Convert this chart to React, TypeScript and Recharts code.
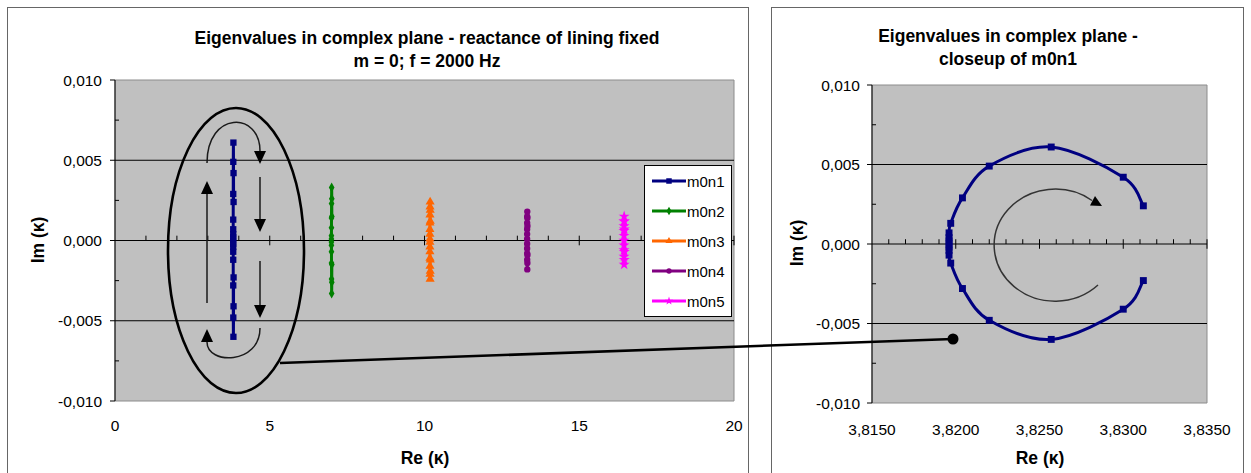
import React from "react";
import {
  ScatterChart,
  Scatter,
  XAxis,
  YAxis,
  ReferenceArea,
  ReferenceLine,
  Legend,
  Symbols,
} from "recharts";

const FONT = '"Liberation Sans", Arial, sans-serif';

// eigenvalue paths (Re, Im)
const m0n1Re = [3.8312, 3.83, 3.8257, 3.822, 3.8204, 3.8197, 3.8196, 3.8196, 3.8196, 3.8196, 3.8196, 3.8196, 3.8196, 3.8197, 3.8204, 3.822, 3.8257, 3.83, 3.8312];
const m0n1Im = [0.0024, 0.0042, 0.0061, 0.0049, 0.0029, 0.0013, 0.0007, 0.0004, 0.0002, 0.0, -0.0002, -0.0004, -0.0007, -0.0012, -0.0028, -0.0048, -0.006, -0.0041, -0.0023];

const m0n2Re = [7.006, 7.004, 7.0, 6.997, 6.995, 6.994, 6.993, 6.993, 6.993, 6.993, 6.994, 6.995, 6.997, 7.0, 7.004, 7.006];
const m0n2Im = [0.0015, 0.0026, 0.0033, 0.0023, 0.0014, 0.0008, 0.0003, 0.0001, -0.0001, -0.0003, -0.0007, -0.0014, -0.0024, -0.0033, -0.0026, -0.0015];

const m0n3Re = [10.187, 10.185, 10.182, 10.179, 10.177, 10.176, 10.175, 10.175, 10.175, 10.175, 10.175, 10.175, 10.176, 10.177, 10.179, 10.182, 10.185, 10.187];
const m0n3Im = [0.0012, 0.0019, 0.0024, 0.0021, 0.0016, 0.0011, 0.0007, 0.0004, 0.0001, -0.0001, -0.0004, -0.0007, -0.0011, -0.0016, -0.0021, -0.0024, -0.0019, -0.0012];

const m0n4Re = [13.326, 13.324, 13.321, 13.318, 13.317, 13.316, 13.316, 13.316, 13.316, 13.316, 13.317, 13.318, 13.321, 13.324, 13.326];
const m0n4Im = [0.0009, 0.0014, 0.0018, 0.0015, 0.0011, 0.0007, 0.0004, 0.0001, -0.0002, -0.0005, -0.0008, -0.0012, -0.0018, -0.0014, -0.0009];

const m0n5Re = [16.456, 16.454, 16.451, 16.448, 16.447, 16.446, 16.446, 16.446, 16.446, 16.447, 16.448, 16.451, 16.454, 16.456];
const m0n5Im = [0.0007, 0.0012, 0.0015, 0.0012, 0.0009, 0.0006, 0.0003, 0.0, -0.0003, -0.0006, -0.001, -0.0015, -0.0012, -0.0007];

const seriesNames = ["m0n1", "m0n2", "m0n3", "m0n4", "m0n5"];
const seriesColors = ["#000080", "#008000", "#FF6600", "#800080", "#FF00FF"];
const seriesShapes = ["square", "diamond", "triangle", "circle", "star"] as const;
const markerSizes = [40, 28, 36, 32, 38];

const imTicks = [-0.01, -0.005, 0, 0.005, 0.01];
const imGrid = [-0.005, 0.005];
const imMinor = [-0.0075, -0.0025, 0.0025, 0.0075];
const reTicks = [0, 5, 10, 15, 20];
const reMinor = [1, 2, 3, 4, 6, 7, 8, 9, 11, 12, 13, 14, 16, 17, 18, 19];
const closeTicks = [3.815, 3.82, 3.825, 3.83, 3.835];
const closeMinor = [3.816, 3.817, 3.818, 3.819, 3.821, 3.822, 3.823, 3.824, 3.826, 3.827, 3.828, 3.829, 3.831, 3.832, 3.833, 3.834];

const toPts = (re: number[], im: number[]) => re.map((x, i) => ({ x, y: im[i] }));
const allSeries = [
  toPts(m0n1Re, m0n1Im),
  toPts(m0n2Re, m0n2Im),
  toPts(m0n3Re, m0n3Im),
  toPts(m0n4Re, m0n4Im),
  toPts(m0n5Re, m0n5Im),
];

const comma = (d: number) => (v: number) => v.toFixed(d).replace(".", ",");
const tickStyle = { fontSize: 15.5, fill: "#000", fontFamily: FONT };

// excel style smoothed line through the points (catmull-rom)
function catmull(pts: { x: number; y: number }[]) {
  if (!pts || !pts.length) return "";
  let d = `M${pts[0].x},${pts[0].y}`;
  for (let i = 0; i < pts.length - 1; i++) {
    const p0 = pts[i - 1] || pts[i];
    const p1 = pts[i];
    const p2 = pts[i + 1];
    const p3 = pts[i + 2] || p2;
    const c1x = p1.x + (p2.x - p0.x) / 6;
    const c1y = p1.y + (p2.y - p0.y) / 6;
    const c2x = p2.x - (p3.x - p1.x) / 6;
    const c2y = p2.y - (p3.y - p1.y) / 6;
    d += ` C${c1x},${c1y} ${c2x},${c2y} ${p2.x},${p2.y}`;
  }
  return d;
}
const smooth = (w: number) => (p: any) => (
  <path d={catmull(p.points)} stroke={p.stroke} strokeWidth={w} fill="none" />
);
const marker = (i: number, size: number) => (p: any) => (
  <Symbols cx={p.cx} cy={p.cy} type={seriesShapes[i]} size={size} fill={seriesColors[i]} />
);

const renderLegend = () => (
  <div
    style={{
      width: 88,
      height: 152,
      boxSizing: "border-box",
      background: "#fff",
      border: "1px solid #000",
      fontFamily: FONT,
      fontSize: 15,
    }}
  >
    {seriesNames.map((n, i) => (
      <div key={n} style={{ display: "flex", alignItems: "center", height: 30 }}>
        <svg width={42} height={12} style={{ marginLeft: 6 }}>
          <line x1={1} y1={6} x2={35} y2={6} stroke={seriesColors[i]} strokeWidth={3} />
          <Symbols cx={18} cy={6} type={seriesShapes[i]} size={i === 0 ? 30 : 22} fill={seriesColors[i]} />
        </svg>
        <span style={{ marginLeft: -6 }}>{n}</span>
      </div>
    ))}
  </div>
);

function MainChart() {
  return (
    <ScatterChart width={742} height={480} margin={{ top: 73, right: 15, bottom: 46, left: 0 }}>
      <XAxis type="number" dataKey="x" domain={[0, 20]} ticks={reTicks} interval={0}
        axisLine={false} tickLine={false} tickSize={0} tickMargin={19} height={40}
        tick={tickStyle} allowDataOverflow />
      <YAxis type="number" dataKey="y" domain={[-0.01, 0.01]} ticks={imTicks} interval={0}
        width={108} tickSize={5} tickMargin={8} axisLine={{ stroke: "#000" }}
        tickLine={{ stroke: "#000" }} tick={tickStyle} tickFormatter={comma(3)} allowDataOverflow />
      <ReferenceArea x1={0} x2={20} y1={-0.01} y2={0.01} fill="#C0C0C0" fillOpacity={1} stroke="#8c8c8c" ifOverflow="visible" />
      {imGrid.map((v) => (
        <ReferenceLine key={v} y={v} stroke="#000" strokeWidth={1} />
      ))}
      <ReferenceLine y={0} stroke="#000" strokeWidth={1} />
      {imMinor.map((v) => (
        <ReferenceLine key={"ym" + v} segment={[{ x: 0, y: v }, { x: 0.13, y: v }]} stroke="#000" ifOverflow="visible" />
      ))}
      {reMinor.map((v) => (
        <ReferenceLine key={"xm" + v} segment={[{ x: v, y: 0 }, { x: v, y: 0.0003 }]} stroke="#000" ifOverflow="visible" />
      ))}
      {reTicks.slice(1).map((v) => (
        <ReferenceLine key={"xM" + v} segment={[{ x: v, y: -0.0003 }, { x: v, y: 0.0003 }]} stroke="#000" ifOverflow="visible" />
      ))}
      {allSeries.map((pts, i) => (
        <Scatter key={seriesNames[i]} name={seriesNames[i]} data={pts} fill={seriesColors[i]}
          shape={marker(i, markerSizes[i])} legendType={seriesShapes[i]} line={smooth(3)} lineType="joint"
          isAnimationActive={false} />
      ))}
      <Legend layout="vertical" align="center" verticalAlign="middle" content={renderLegend}
        wrapperStyle={{ position: "absolute", left: 637, top: 158, width: 88, height: 152 }} />
    </ScatterChart>
  );
}

function CloseupChart() {
  return (
    <ScatterChart width={473} height={480} margin={{ top: 78, right: 37, bottom: 44, left: 0 }}>
      <XAxis type="number" dataKey="x" domain={[3.815, 3.835]} ticks={closeTicks} interval={0}
        axisLine={false} tickLine={false} tickSize={0} tickMargin={21} height={40}
        tick={tickStyle} tickFormatter={comma(4)} allowDataOverflow />
      <YAxis type="number" dataKey="y" domain={[-0.01, 0.01]} ticks={imTicks} interval={0}
        width={101} tickSize={5} tickMargin={7} axisLine={{ stroke: "#000" }}
        tickLine={{ stroke: "#000" }} tick={tickStyle} tickFormatter={comma(3)} allowDataOverflow />
      <ReferenceArea x1={3.815} x2={3.835} y1={-0.01} y2={0.01} fill="#C0C0C0" fillOpacity={1} stroke="#8c8c8c" ifOverflow="visible" />
      {imGrid.map((v) => (
        <ReferenceLine key={v} y={v} stroke="#000" strokeWidth={1} />
      ))}
      <ReferenceLine y={0} stroke="#000" strokeWidth={1} />
      {imMinor.map((v) => (
        <ReferenceLine key={"ym" + v} segment={[{ x: 3.815, y: v }, { x: 3.81524, y: v }]} stroke="#000" ifOverflow="visible" />
      ))}
      {closeMinor.map((v) => (
        <ReferenceLine key={"xm" + v} segment={[{ x: v, y: 0 }, { x: v, y: 0.0003 }]} stroke="#000" ifOverflow="visible" />
      ))}
      <ReferenceLine segment={[{ x: 3.82, y: -0.0003 }, { x: 3.82, y: 0.0003 }]} stroke="#000" ifOverflow="visible" />
      {closeTicks.slice(2).map((v) => (
        <ReferenceLine key={"xM" + v} segment={[{ x: v, y: -0.0003 }, { x: v, y: 0.0003 }]} stroke="#000" ifOverflow="visible" />
      ))}
      <Scatter name="m0n1" data={allSeries[0]} fill={seriesColors[0]} shape={marker(0, 48)}
        line={smooth(3)} lineType="joint" isAnimationActive={false} />
    </ScatterChart>
  );
}

export default function App() {
  const bold = { fontFamily: FONT, fontWeight: 700, fontSize: 17.5, fill: "#000" } as const;
  return (
    <div style={{ position: "fixed", left: 0, top: 0, width: 1251, height: 473, overflow: "hidden", background: "#fff", fontFamily: FONT }}>
      <div style={{ position: "absolute", left: 7, top: 7 }}>
        <MainChart />
      </div>
      <div style={{ position: "absolute", left: 771, top: 7 }}>
        <CloseupChart />
      </div>
      <svg width={1251} height={473} style={{ position: "absolute", left: 0, top: 0, pointerEvents: "none" }}>
        <rect x={7.5} y={7.5} width={741} height={500} fill="none" stroke="#666" />
        <rect x={771.5} y={7.5} width={472} height={500} fill="none" stroke="#666" />

        <text x={427} y={43.5} textAnchor="middle" style={bold}>Eigenvalues in complex plane - reactance of lining fixed</text>
        <text x={427} y={66.5} textAnchor="middle" style={bold}>m = 0; f = 2000 Hz</text>
        <text x={1008} y={41.5} textAnchor="middle" style={bold}>Eigenvalues in complex plane -</text>
        <text x={1008} y={65} textAnchor="middle" style={bold}>closeup of m0n1</text>

        <text x={425} y={463.5} textAnchor="middle" style={bold}>Re (κ)</text>
        <text x={1040} y={464} textAnchor="middle" style={bold}>Re (κ)</text>
        <text transform="translate(38,240) rotate(-90)" y={6.3} textAnchor="middle" style={bold}>Im (κ)</text>
        <text transform="translate(797,243) rotate(-90)" y={6.3} textAnchor="middle" style={bold}>Im (κ)</text>

        {/* annotation: ellipse round m0n1 with direction arrows */}
        <ellipse cx={236} cy={250.5} rx={68} ry={142.5} fill="none" stroke="#000" strokeWidth={2.6} />
        <g stroke="#1a1a1a" strokeWidth={1.5} fill="none">
          <line x1={207} y1={303} x2={207} y2={192} />
          <path d="M207 163 C207 111, 260 111, 260 151" />
          <line x1={260} y1={177} x2={260} y2={220} />
          <line x1={260} y1={261} x2={260} y2={306} />
          <path d="M260 328 C260 365, 207 365, 207 342" />
          <path d="M1098 285 A61 56 0 1 1 1092 200.5" stroke="#333" />
        </g>
        <g fill="#000">
          <polygon points="207,181 201,194 213,194" />
          <polygon points="260,164 254,151 266,151" />
          <polygon points="260,232 254,219 266,219" />
          <polygon points="260,318 254,305 266,305" />
          <polygon points="207,329 201,342 213,342" />
          <polygon points="1102,206 1090,205.5 1095,196" />
        </g>
        <line x1={280} y1={363} x2={953} y2={339} stroke="#000" strokeWidth={2.6} />
        <circle cx={953} cy={339} r={5.5} fill="#000" />
      </svg>
    </div>
  );
}
